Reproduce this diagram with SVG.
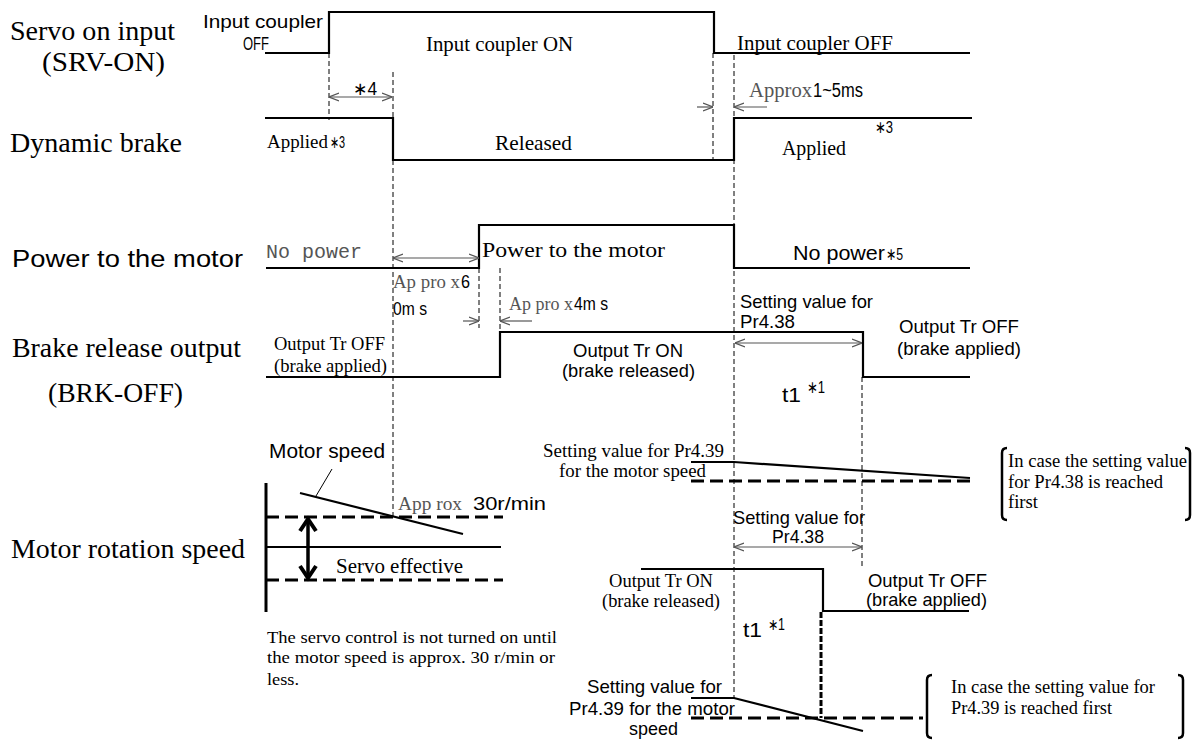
<svg xmlns="http://www.w3.org/2000/svg" width="1196" height="740" viewBox="0 0 1196 740">
<style>
.sig{fill:none;stroke:#000;stroke-width:2.2}
.dsh{fill:none;stroke:#000;stroke-width:1;stroke-dasharray:5 3}
.thk{fill:none;stroke:#000;stroke-width:3;stroke-dasharray:13 6}
.arr{fill:none;stroke:#555;stroke-width:1.2}
.br{fill:none;stroke:#000;stroke-width:2.5}
text{fill:#000}
.serif{font-family:"Liberation Serif","Times New Roman",serif}
.sans{font-family:"Liberation Sans",Arial,sans-serif}
.mono{font-family:"Liberation Mono","Courier New",monospace}
.gray{fill:#555}
.big{font-size:27px}
</style>
<defs>
<marker id="ah" viewBox="0 0 10 10" refX="10" refY="5" markerWidth="10" markerHeight="10" markerUnits="userSpaceOnUse" orient="auto-start-reverse">
<path d="M0,1 L10,5 L0,9" fill="none" stroke="#555" stroke-width="1.2"/>
</marker>
</defs>

<g id="row-labels">
<text class="serif big" x="10" y="40" textLength="165" lengthAdjust="spacingAndGlyphs">Servo on input</text>
<text class="serif big" x="42" y="71" textLength="123" lengthAdjust="spacingAndGlyphs">(SRV-ON)</text>
<text class="serif big" x="10" y="152" textLength="172" lengthAdjust="spacingAndGlyphs">Dynamic brake</text>
<text class="sans" font-size="23" x="12" y="267" textLength="231" lengthAdjust="spacingAndGlyphs">Power to the motor</text>
<text class="serif big" x="12" y="357" textLength="229" lengthAdjust="spacingAndGlyphs">Brake release output</text>
<text class="serif big" x="48" y="402" textLength="135" lengthAdjust="spacingAndGlyphs">(BRK-OFF)</text>
<text class="serif big" x="11" y="558" textLength="234" lengthAdjust="spacingAndGlyphs">Motor rotation speed</text>
</g>

<g id="connectors">
<polyline class="sig" points="265,53 329,53 329,12 714,12 714,53 970,53"/>
<polyline class="sig" points="265,118 393,118 393,160 734,160 734,118 972,118"/>
<polyline class="sig" points="266,268 479,268 479,225 734,225 734,268 970,268"/>
<polyline class="sig" points="266,377 500,377 500,332 863,332 863,377 970,377"/>
<polyline class="sig" points="641,569 823,569 823,611 969,611"/>
<line class="dsh" x1="329" y1="53" x2="329" y2="120"/>
<line class="dsh" x1="393" y1="72" x2="393" y2="517"/>
<line class="dsh" x1="479" y1="268" x2="479" y2="328"/>
<line class="dsh" x1="500" y1="268" x2="500" y2="332"/>
<line class="dsh" x1="713" y1="53" x2="713" y2="160"/>
<line class="dsh" x1="734" y1="55" x2="734" y2="698"/>
<line class="dsh" x1="862" y1="377" x2="862" y2="567"/>
<line class="arr" x1="329" y1="97" x2="392" y2="97" marker-start="url(#ah)" marker-end="url(#ah)"/>
<line class="arr" x1="697" y1="107" x2="713" y2="107" marker-end="url(#ah)"/>
<line class="arr" x1="767" y1="107" x2="734" y2="107" marker-end="url(#ah)"/>
<line class="arr" x1="393" y1="258" x2="479" y2="258" marker-start="url(#ah)" marker-end="url(#ah)"/>
<line class="arr" x1="463" y1="321" x2="479" y2="321" marker-end="url(#ah)"/>
<line class="arr" x1="532" y1="321" x2="500" y2="321" marker-end="url(#ah)"/>
<line class="arr" x1="735" y1="343" x2="862" y2="343" marker-start="url(#ah)" marker-end="url(#ah)"/>
<line class="arr" x1="734" y1="547" x2="862" y2="547" marker-start="url(#ah)" marker-end="url(#ah)"/>
<line x1="266" y1="483" x2="266" y2="612" stroke="#000" stroke-width="3"/>
<line class="thk" x1="266" y1="517" x2="503" y2="517"/>
<line x1="266" y1="547" x2="501" y2="547" stroke="#000" stroke-width="2.2"/>
<line class="thk" x1="266" y1="580" x2="503" y2="580"/>
<line x1="300" y1="493" x2="463" y2="534" stroke="#000" stroke-width="2.2"/>
<line x1="332" y1="469" x2="316" y2="496" stroke="#000" stroke-width="1"/>
<line x1="308" y1="521" x2="308" y2="576" stroke="#000" stroke-width="3.5"/>
<path d="M300,531 L308,519 L316,531 M300,566 L308,578 L316,566" fill="none" stroke="#000" stroke-width="4"/>
<polyline points="691,462 734,462 970,478" fill="none" stroke="#000" stroke-width="2.2"/>
<line class="thk" x1="691" y1="481" x2="970" y2="481"/>
<polyline points="691,698 734,698 863,731" fill="none" stroke="#000" stroke-width="2.2"/>
<line class="thk" x1="691" y1="718" x2="923" y2="718"/>
<line x1="821" y1="612" x2="821" y2="718" stroke="#000" stroke-width="3" stroke-dasharray="6 2"/>
<path class="br" d="M1007,448 Q1002,448 1002,453 L1002,515 Q1002,520 1007,520"/>
<path class="br" d="M1185,448 Q1190,448 1190,453 L1190,515 Q1190,520 1185,520"/>
<path class="br" d="M932,675 Q927,675 927,680 L927,733 Q927,738 932,738"/>
<path class="br" d="M1178,675 Q1183,675 1183,680 L1183,733 Q1183,738 1178,738"/>
</g>

<g id="servo-on-texts">
<text class="sans" font-size="19" x="203" y="28" textLength="120" lengthAdjust="spacingAndGlyphs">Input coupler</text>
<text class="sans" font-size="19" x="243" y="50" textLength="26" lengthAdjust="spacingAndGlyphs">OFF</text>
<text class="serif" font-size="21" x="426" y="51" textLength="147" lengthAdjust="spacingAndGlyphs">Input coupler ON</text>
<text class="serif" font-size="21" x="737" y="50" textLength="156" lengthAdjust="spacingAndGlyphs">Input coupler OFF</text>
<text class="sans" font-size="18" x="353" y="95" textLength="24" lengthAdjust="spacingAndGlyphs">∗4</text>
<text class="serif gray" font-size="20" x="749" y="97" textLength="63" lengthAdjust="spacingAndGlyphs">Approx</text>
<text class="sans" font-size="20" x="813" y="97" textLength="50" lengthAdjust="spacingAndGlyphs">1~5ms</text>
</g>

<g id="dynamic-brake-texts">
<text class="serif" font-size="19" x="267" y="148" textLength="61" lengthAdjust="spacingAndGlyphs">Applied</text>
<text class="sans" font-size="17" x="330" y="148" textLength="15" lengthAdjust="spacingAndGlyphs">∗3</text>
<text class="serif" font-size="21" x="495" y="150" textLength="77" lengthAdjust="spacingAndGlyphs">Released</text>
<text class="sans" font-size="17" x="875" y="133" textLength="18" lengthAdjust="spacingAndGlyphs">∗3</text>
<text class="serif" font-size="20" x="782" y="155" textLength="64" lengthAdjust="spacingAndGlyphs">Applied</text>
</g>

<g id="power-texts">
<text class="mono gray" font-size="20" x="266" y="258" textLength="96" lengthAdjust="spacingAndGlyphs">No power</text>
<text class="serif" font-size="22" x="482" y="257" textLength="183" lengthAdjust="spacingAndGlyphs">Power to the motor</text>
<text class="sans" font-size="20" x="793" y="260" textLength="92" lengthAdjust="spacingAndGlyphs">No power</text>
<text class="sans" font-size="17" x="886" y="260" textLength="17" lengthAdjust="spacingAndGlyphs">∗5</text>
<text class="serif gray" font-size="18" x="393" y="288" textLength="67" lengthAdjust="spacingAndGlyphs">Ap pro x</text>
<text class="sans" font-size="19" x="461" y="288" textLength="9" lengthAdjust="spacingAndGlyphs">6</text>
<text class="sans" font-size="19" x="393" y="315" textLength="34" lengthAdjust="spacingAndGlyphs">0m s</text>
<text class="serif gray" font-size="18" x="509" y="310" textLength="64" lengthAdjust="spacingAndGlyphs">Ap pro x</text>
<text class="sans" font-size="19" x="574" y="310" textLength="34" lengthAdjust="spacingAndGlyphs">4m s</text>
</g>

<g id="brake-output-texts">
<text class="serif" font-size="18" x="274" y="350" textLength="111" lengthAdjust="spacingAndGlyphs">Output Tr OFF</text>
<text class="serif" font-size="18" x="274" y="372" textLength="113" lengthAdjust="spacingAndGlyphs">(brake applied)</text>
<text class="sans" font-size="19" x="573" y="357" textLength="110" lengthAdjust="spacingAndGlyphs">Output Tr ON</text>
<text class="sans" font-size="19" x="562" y="377" textLength="133" lengthAdjust="spacingAndGlyphs">(brake released)</text>
<text class="sans" font-size="19" x="740" y="308" textLength="133" lengthAdjust="spacingAndGlyphs">Setting value for</text>
<text class="sans" font-size="19" x="740" y="328" textLength="55" lengthAdjust="spacingAndGlyphs">Pr4.38</text>
<text class="sans" font-size="19" x="899" y="333" textLength="120" lengthAdjust="spacingAndGlyphs">Output Tr OFF</text>
<text class="sans" font-size="19" x="897" y="355" textLength="124" lengthAdjust="spacingAndGlyphs">(brake applied)</text>
<text class="sans" font-size="21" x="782" y="402" textLength="19" lengthAdjust="spacingAndGlyphs">t1</text>
<text class="sans" font-size="17" x="807" y="393" textLength="18" lengthAdjust="spacingAndGlyphs">∗1</text>
</g>

<g id="motor-speed-texts">
<text class="sans" font-size="20" x="269" y="458" textLength="116" lengthAdjust="spacingAndGlyphs">Motor speed</text>
<text class="serif gray" font-size="19" x="398" y="510" textLength="64" lengthAdjust="spacingAndGlyphs">App rox</text>
<text class="sans" font-size="19" x="473" y="510" textLength="73" lengthAdjust="spacingAndGlyphs">30r/min</text>
<text class="serif" font-size="20" x="336" y="573" textLength="127" lengthAdjust="spacingAndGlyphs">Servo effective</text>
<text class="serif" font-size="17" x="267" y="643" textLength="290" lengthAdjust="spacingAndGlyphs">The servo control is not turned on until</text>
<text class="serif" font-size="17" x="267" y="663" textLength="288" lengthAdjust="spacingAndGlyphs">the motor speed is approx. 30 r/min or</text>
<text class="serif" font-size="17" x="267" y="685" textLength="32" lengthAdjust="spacingAndGlyphs">less.</text>
</g>

<g id="case-pr438">
<text class="serif" font-size="19" x="543" y="457" textLength="181" lengthAdjust="spacingAndGlyphs">Setting value for Pr4.39</text>
<text class="serif" font-size="19" x="559" y="477" textLength="147" lengthAdjust="spacingAndGlyphs">for the motor speed</text>
<text class="serif" font-size="18" x="1008" y="467" textLength="179" lengthAdjust="spacingAndGlyphs">In case the setting value</text>
<text class="serif" font-size="18" x="1008" y="488" textLength="155" lengthAdjust="spacingAndGlyphs">for Pr4.38 is reached</text>
<text class="serif" font-size="18" x="1008" y="508" textLength="30" lengthAdjust="spacingAndGlyphs">first</text>
</g>

<g id="case-pr439">
<text class="sans" font-size="19" x="733" y="524" textLength="132" lengthAdjust="spacingAndGlyphs">Setting value for</text>
<text class="sans" font-size="19" x="772" y="543" textLength="52" lengthAdjust="spacingAndGlyphs">Pr4.38</text>
<text class="serif" font-size="18" x="609" y="587" textLength="104" lengthAdjust="spacingAndGlyphs">Output Tr ON</text>
<text class="serif" font-size="18" x="602" y="607" textLength="118" lengthAdjust="spacingAndGlyphs">(brake released)</text>
<text class="sans" font-size="19" x="868" y="587" textLength="119" lengthAdjust="spacingAndGlyphs">Output Tr OFF</text>
<text class="sans" font-size="19" x="866" y="606" textLength="121" lengthAdjust="spacingAndGlyphs">(brake applied)</text>
<text class="sans" font-size="21" x="743" y="637" textLength="19" lengthAdjust="spacingAndGlyphs">t1</text>
<text class="sans" font-size="16" x="768" y="630" textLength="17" lengthAdjust="spacingAndGlyphs">∗1</text>
<text class="sans" font-size="19" x="587" y="693" textLength="135" lengthAdjust="spacingAndGlyphs">Setting value for</text>
<text class="sans" font-size="19" x="569" y="715" textLength="166" lengthAdjust="spacingAndGlyphs">Pr4.39 for the motor</text>
<text class="sans" font-size="19" x="629" y="735" textLength="49" lengthAdjust="spacingAndGlyphs">speed</text>
<text class="serif" font-size="18" x="951" y="693" textLength="204" lengthAdjust="spacingAndGlyphs">In case the setting value for</text>
<text class="serif" font-size="18" x="951" y="714" textLength="161" lengthAdjust="spacingAndGlyphs">Pr4.39 is reached first</text>
</g>
</svg>
